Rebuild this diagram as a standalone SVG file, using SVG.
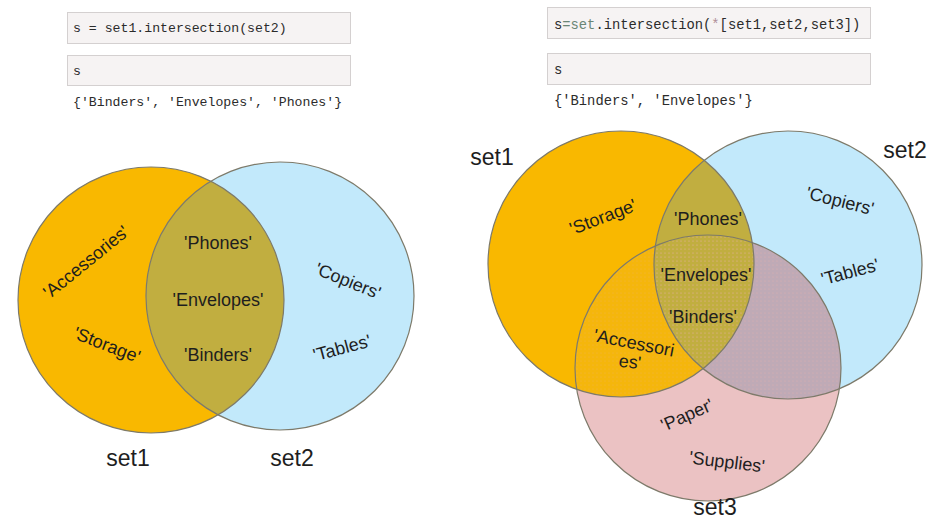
<svg xmlns="http://www.w3.org/2000/svg" width="937" height="529" viewBox="0 0 937 529">
<style>
  .code { font-family: "Liberation Mono", "DejaVu Sans Mono", monospace; fill: #2b2b2b; }
  .box { fill: #f6f3f3; stroke: #d4d0d0; stroke-width: 1; }
  .lbl { font-family: "Liberation Sans", Arial, sans-serif; font-size: 18px; fill: #1e1e1e; text-anchor: middle; }
  .set { font-family: "Liberation Sans", Arial, sans-serif; font-size: 23px; fill: #1e1e1e; text-anchor: middle; }
  .edge { fill: none; stroke: #7d7a6a; stroke-width: 1.2; }
</style>
<defs>
  <clipPath id="cA"><circle cx="151" cy="300" r="133"/></clipPath>
  <clipPath id="c1"><circle cx="621" cy="264" r="133"/></clipPath>
  <clipPath id="c2"><circle cx="788" cy="265" r="134"/></clipPath>
  <pattern id="dots" width="4" height="4" patternUnits="userSpaceOnUse">
    <circle cx="1" cy="1" r="0.6" fill="#e8b0a8" opacity="0.7"/>
  </pattern>
</defs>
<rect width="937" height="529" fill="#ffffff"/>

<g id="code-left">
  <rect class="box" x="67.5" y="12.5" width="283" height="31"/>
  <text class="code" x="73" y="32" font-size="13.2">s = set1.intersection(set2)</text>
  <rect class="box" x="67.5" y="55.5" width="283" height="30"/>
  <text class="code" x="73" y="75" font-size="13.2">s</text>
  <text class="code" x="73" y="106" font-size="13.2">{'Binders', 'Envelopes', 'Phones'}</text>
</g>

<g id="code-right">
  <rect class="box" x="547.5" y="7.5" width="323" height="31"/>
  <text class="code" x="554" y="29" font-size="13.8">s<tspan fill="#6a8676">=set</tspan>.intersection(<tspan fill="#b08e98">*</tspan>[set1,set2,set3])</text>
  <rect class="box" x="547.5" y="53.5" width="323" height="31"/>
  <text class="code" x="554" y="74" font-size="13.8">s</text>
  <text class="code" x="554" y="105" font-size="13.8">{'Binders', 'Envelopes'}</text>
</g>

<g id="venn2">
  <g id="set1-left">
    <circle cx="151" cy="300" r="133" fill="#f9b800"/>
  </g>
  <g id="set2-left">
    <circle cx="280" cy="296" r="134" fill="#c2e9fb"/>
  </g>
  <g id="inter-left">
    <circle cx="280" cy="296" r="134" fill="#c1ae40" clip-path="url(#cA)"/>
  </g>
  <circle class="edge" cx="151" cy="300" r="133"/>
  <circle class="edge" cx="280" cy="296" r="134"/>
  <text class="lbl" transform="translate(86,262) rotate(-39)" y="6">'Accessories'</text>
  <text class="lbl" transform="translate(107,345) rotate(21)" y="6">'Storage'</text>
  <text class="lbl" x="218" y="249">'Phones'</text>
  <text class="lbl" x="218" y="306">'Envelopes'</text>
  <text class="lbl" x="218" y="361">'Binders'</text>
  <text class="lbl" transform="translate(348,281) rotate(22)" y="6">'Copiers'</text>
  <text class="lbl" transform="translate(342,348) rotate(-15)" y="6">'Tables'</text>
  <text class="set" x="128" y="466">set1</text>
  <text class="set" x="292" y="466">set2</text>
</g>

<g id="venn3">
  <g id="set1-right"><circle cx="621" cy="264" r="133" fill="#f9b800"/></g>
  <g id="set2-right"><circle cx="788" cy="265" r="134" fill="#c2e9fb"/></g>
  <g id="set3-right"><circle cx="708" cy="368" r="133" fill="#ebc2c3"/></g>
  <g id="inter-13"><circle cx="708" cy="368" r="133" fill="#f5b60c" clip-path="url(#c1)"/></g>
  <g id="inter-23"><circle cx="708" cy="368" r="133" fill="#bfaab6" clip-path="url(#c2)"/></g>
  <g id="inter-12"><circle cx="788" cy="265" r="134" fill="#c1ae40" clip-path="url(#c1)"/></g>
  <g id="stipple">
    <circle cx="708" cy="368" r="133" fill="url(#dots)" clip-path="url(#c2)"/>
    <circle cx="708" cy="368" r="133" fill="url(#dots)" clip-path="url(#c1)" opacity="0.5"/>
  </g>
  <circle class="edge" cx="621" cy="264" r="133"/>
  <circle class="edge" cx="788" cy="265" r="134"/>
  <circle class="edge" cx="708" cy="368" r="133"/>
  <text class="set" x="492" y="165">set1</text>
  <text class="set" x="905" y="158">set2</text>
  <text class="set" x="715" y="515">set3</text>
  <text class="lbl" transform="translate(603,217) rotate(-21)" y="6">'Storage'</text>
  <text class="lbl" x="708" y="225">'Phones'</text>
  <text class="lbl" transform="translate(840,201) rotate(14)" y="6">'Copiers'</text>
  <text class="lbl" x="706" y="281">'Envelopes'</text>
  <text class="lbl" transform="translate(850,272) rotate(-15)" y="6">'Tables'</text>
  <text class="lbl" x="703" y="323">'Binders'</text>
  <text class="lbl" transform="translate(634,343) rotate(11)" y="6">'Accessori</text>
  <text class="lbl" transform="translate(630,362) rotate(6)" y="6">es'</text>
  <text class="lbl" transform="translate(687,415) rotate(-24)" y="6">'Paper'</text>
  <text class="lbl" transform="translate(727,462) rotate(7)" y="6">'Supplies'</text>
</g>
</svg>
